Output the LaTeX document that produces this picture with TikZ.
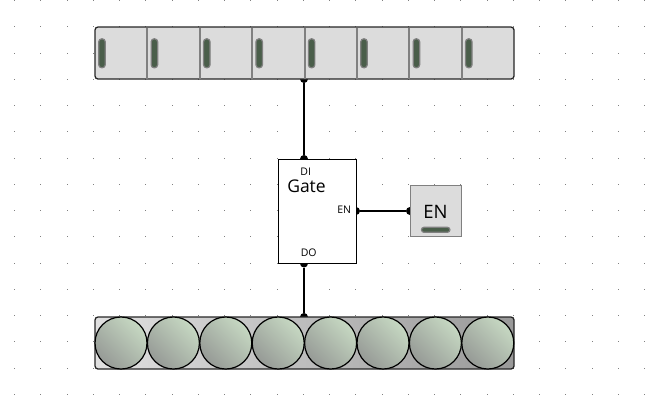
\documentclass[tikz,border=0pt]{standalone}
\usepackage{fontspec}
\setmainfont{Open Sans}
\usetikzlibrary{arrows,shapes}
\definecolor{panel}{HTML}{DCDCDC}
\definecolor{slotgray}{HTML}{808080}
\definecolor{slotgreen}{HTML}{4A5E4A}
\definecolor{ledlight}{HTML}{C6D8C2}
\definecolor{leddark}{HTML}{969A96}
\begin{document}
\begin{tikzpicture}
          [x=1pt,y=-1pt,
          griddot/.style={fill=gray,minimum size=1pt,inner sep=0pt},
          bus/.style={rectangle,draw=black!85,line width=1.3pt,rounded corners=3pt,inner sep=0pt,minimum width=419pt,minimum height=52pt},
          slotbar/.style={rectangle,draw=slotgray,line width=1.2pt,fill=slotgreen,rounded corners=3pt,inner sep=0pt,minimum width=6.5pt,minimum height=29pt},
          led/.style={circle,draw=black,line width=1.2pt,top color=ledlight,bottom color=leddark,shading angle=-45,inner sep=0pt,minimum size=52pt},
          pin/.style={circle,fill=black,inner sep=0pt,minimum size=8pt},
          wire/.style={line width=1.4pt,black},
          small/.style={font=\fontsize{10.5}{12}\selectfont,inner sep=0pt}]
          \useasboundingbox (0,0) rectangle (668,400);
          % grid of the editor
          \foreach \i in {0,...,24}
            \foreach \j in {0,...,15}
              \node[griddot] (dot\i-\j) at (14.5+26.25*\i,0.5+26.25*\j) {};
          % pins and wires
          \node[pin] (upperpin) at (304,79) {};
          \node[pin] (dipin)    at (304,159) {};
          \node[pin] (dopin)    at (304,263.5) {};
          \node[pin] (lowerpin) at (304,317) {};
          \node[pin] (enpin)    at (356,211) {};
          \node[pin] (boxpin)   at (410,211) {};
          \draw[wire] (upperpin) -- (dipin);
          \draw[wire] (dopin) -- (lowerpin);
          \draw[wire] (enpin) -- (boxpin);
          % upper row
          \node[bus,fill=panel] (upper) at (304.5,53) {};
          \foreach \i in {1,...,7}
            \draw[slotgray,line width=2pt] (95+52.4*\i,27.5) -- (95+52.4*\i,78.5);
          \foreach \i in {0,...,7}
            \node[slotbar] (slot\i) at (102+52.4*\i,53.3) {};
          % lower row
          \node[bus,left color=white!88!black,right color=black!40] (lower) at (304.5,343) {};
          \foreach \i in {0,...,7}
            \node[led] (led\i) at (121+52.4*\i,343) {};
          % gate
          \node[rectangle,draw=black,line width=0.9pt,fill=white,minimum width=78pt,minimum height=104.5pt,inner sep=0pt] (gate) at (317.2,211.3) {};
          \node[small] (di) at (305.7,171.5) {DI};
          \node[small] (do) at (308.7,253) {DO};
          \node[small] (enin) at (344.2,210) {EN};
          \node[font=\fontsize{17.5}{20}\selectfont,inner sep=0pt] (gatename) at (306.5,186.5) {Gate};
          % enable box
          \node[rectangle,draw=gray,line width=0.8pt,fill=panel,minimum size=51.5pt,inner sep=0pt] (enbox) at (435.7,211) {};
          \node[font=\fontsize{18.5}{21}\selectfont,inner sep=0pt] (enname) at (435.5,211.5) {EN};
          \node[rectangle,draw=slotgray,line width=1.2pt,fill=slotgreen,rounded corners=2.5pt,inner sep=0pt,minimum width=28.5pt,minimum height=5pt] (enbar) at (435.7,229.8) {};
        \end{tikzpicture}
\end{document}
